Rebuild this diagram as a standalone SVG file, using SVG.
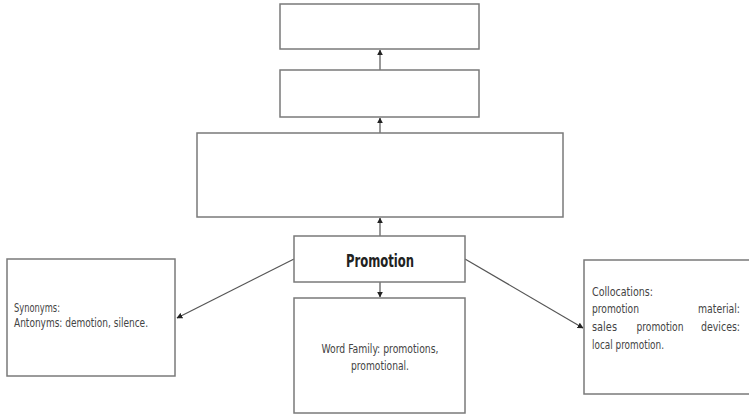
<svg xmlns="http://www.w3.org/2000/svg" width="749" height="416" viewBox="0 0 749 416">
  <style>
    .box { fill: #ffffff; stroke: #7a7a7a; stroke-width: 1.5; }
    .link { stroke: #555555; stroke-width: 1.2; fill: none; marker-end: url(#tip); }
    .t { font-family: "DejaVu Sans Condensed", "Liberation Sans Narrow", "Liberation Sans", sans-serif; font-size: 12px; fill: #444444; }
    .title { font-family: "DejaVu Sans Condensed", "Liberation Sans", sans-serif; font-size: 17px; font-weight: bold; fill: #222222; }
  </style>
  <defs>
    <marker id="tip" viewBox="0 0 10 10" refX="9" refY="5" markerWidth="6" markerHeight="6" orient="auto" markerUnits="userSpaceOnUse">
      <path d="M0,0 L10,5 L0,10 z" fill="#222222"/>
    </marker>
  </defs>
  <rect width="749" height="416" fill="#ffffff"/>

  <g id="connectors">
    <line class="link" x1="380" y1="70" x2="380" y2="50"/>
    <line class="link" x1="380" y1="133" x2="380" y2="118"/>
    <line class="link" x1="380" y1="236" x2="380" y2="218"/>
    <line class="link" x1="380" y1="282" x2="380" y2="297"/>
    <line class="link" x1="294" y1="259" x2="177" y2="318"/>
    <line class="link" x1="465" y1="259" x2="583" y2="328"/>
  </g>

  <g id="top-box">
    <rect class="box" x="280" y="4" width="199" height="45"/>
  </g>
  <g id="second-box">
    <rect class="box" x="280" y="70" width="199" height="47"/>
  </g>
  <g id="wide-box">
    <rect class="box" x="197" y="133" width="366" height="84"/>
  </g>
  <g id="promotion">
    <rect class="box" x="294" y="236" width="171" height="46"/>
    <text class="title" x="380" y="267" text-anchor="middle" textLength="68" lengthAdjust="spacingAndGlyphs">Promotion</text>
  </g>
  <g id="word-family">
    <rect class="box" x="294" y="298" width="171" height="115"/>
    <text class="t" x="380" y="353" text-anchor="middle" textLength="117" lengthAdjust="spacingAndGlyphs">Word Family: promotions,</text>
    <text class="t" x="380" y="370" text-anchor="middle" textLength="58" lengthAdjust="spacingAndGlyphs">promotional.</text>
  </g>
  <g id="synonyms">
    <rect class="box" x="7" y="259" width="168" height="117"/>
    <text class="t" x="14" y="312" textLength="46" lengthAdjust="spacingAndGlyphs">Synonyms:</text>
    <text class="t" x="14" y="327" textLength="134" lengthAdjust="spacingAndGlyphs">Antonyms: demotion, silence.</text>
  </g>
  <g id="collocations">
    <rect class="box" x="584" y="260" width="170" height="134"/>
    <text class="t" x="592" y="296" textLength="61" lengthAdjust="spacingAndGlyphs">Collocations:</text>
    <text class="t" x="592" y="313" textLength="47" lengthAdjust="spacingAndGlyphs">promotion</text>
    <text class="t" x="740" y="313" text-anchor="end" textLength="42" lengthAdjust="spacingAndGlyphs">material:</text>
    <text class="t" x="592" y="331" textLength="25" lengthAdjust="spacingAndGlyphs">sales</text>
    <text class="t" x="660" y="331" text-anchor="middle" textLength="47" lengthAdjust="spacingAndGlyphs">promotion</text>
    <text class="t" x="740" y="331" text-anchor="end" textLength="39" lengthAdjust="spacingAndGlyphs">devices:</text>
    <text class="t" x="592" y="349" textLength="72" lengthAdjust="spacingAndGlyphs">local promotion.</text>
  </g>
</svg>
